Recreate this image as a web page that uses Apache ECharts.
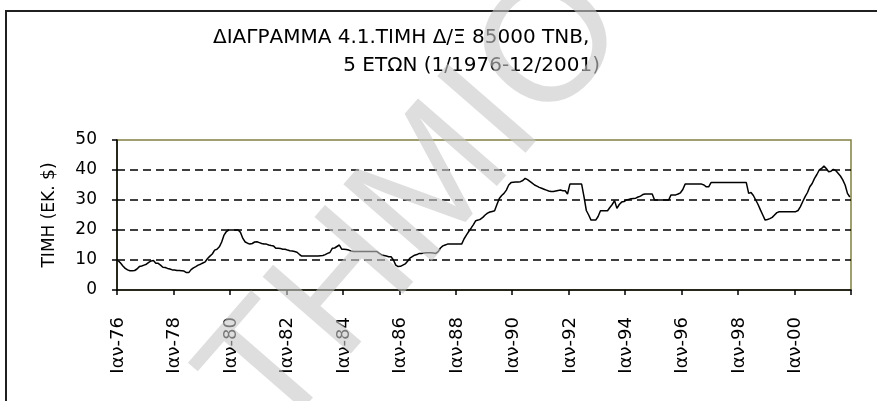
<!DOCTYPE html>
<html>
<head>
<meta charset="utf-8">
<script src="https://cdn.jsdelivr.net/npm/echarts@6/dist/echarts.min.js"></script>
<style>
  html, body { margin: 0; padding: 0; background: #fff; }
  #chart { width: 877px; height: 401px; }
</style>
</head>
<body>
<div id="chart"></div>
<script>
// Titles and axis texts
const titleLines = ['ΔΙΑΓΡΑΜΜΑ 4.1.ΤΙΜΗ Δ/Ξ 85000 ΤΝΒ,', '5 ΕΤΩΝ (1/1976-12/2001)'];
const yAxisName = 'ΤΙΜΗ (ΕΚ. $)';
const watermarkText = 'ΤΗΜΙΟ';

// Month abbreviations used in the category labels
const monthNames = ['Ιαν', 'Φεβ', 'Μαρ', 'Απρ', 'Μαϊ', 'Ιουν', 'Ιουλ', 'Αυγ', 'Σεπ', 'Οκτ', 'Νοε', 'Δεκ'];
const firstYear = 1976;
const lastYear = 2001;

// Y axis scale
const yMin = 0, yMax = 50, yStep = 10;

// Monthly price (million $), one row per year, Jan..Dec
const price = [
  9.8, 9.0, 8.0, 7.2, 6.7, 6.4, 6.4, 6.5, 7.0, 7.8, 8.0, 8.3,            // 1976
  8.6, 9.2, 9.7, 9.8, 8.9, 8.9, 8.3, 7.6, 7.5, 7.2, 7.0, 6.7,            // 1977
  6.7, 6.5, 6.5, 6.4, 6.3, 5.8, 5.8, 6.8, 7.4, 7.8, 8.3, 8.6,            // 1978
  9.0, 9.4, 10.5, 11.3, 12.0, 13.3, 13.6, 14.4, 16.0, 18.3, 19.5, 20.0,  // 1979
  20.0, 20.0, 20.0, 20.0, 19.2, 17.2, 16.0, 15.6, 15.3, 15.5, 16.0, 16.1,// 1980
  15.8, 15.5, 15.3, 15.3, 15.0, 14.8, 14.7, 13.9, 13.9, 13.8, 13.6, 13.6,// 1981
  13.3, 13.1, 13.0, 12.8, 12.6, 11.9, 11.3, 11.3, 11.3, 11.3, 11.3, 11.3,// 1982
  11.3, 11.3, 11.4, 11.5, 11.8, 12.2, 12.5, 13.9, 14.0, 14.5, 15.0, 13.6,// 1983
  13.6, 13.5, 13.3, 13.0, 12.8, 12.8, 12.8, 12.8, 12.8, 12.8, 12.8, 12.8,// 1984
  12.8, 12.8, 12.8, 12.2, 11.7, 11.5, 11.3, 11.1, 11.1, 10.0, 8.3, 7.8,  // 1985
  7.9, 8.3, 8.7, 9.6, 10.6, 11.1, 11.6, 11.8, 12.2, 12.2, 12.3, 12.4,    // 1986
  12.4, 12.4, 12.3, 12.2, 12.8, 14.0, 14.7, 15.0, 15.3, 15.3, 15.3, 15.3,// 1987
  15.3, 15.3, 15.3, 17.0, 18.3, 19.5, 20.6, 21.8, 23.1, 23.3, 23.6, 24.2,// 1988
  25.0, 25.6, 26.0, 26.2, 26.4, 28.5, 30.5, 31.5, 32.2, 33.3, 35.0, 35.8,// 1989
  35.9, 36.0, 36.0, 36.1, 36.5, 37.2, 36.8, 36.2, 35.6, 35.0, 34.6, 34.2,// 1990
  33.9, 33.6, 33.3, 33.0, 32.8, 32.8, 33.0, 33.2, 33.3, 33.1, 33.1, 32.0,// 1991
  35.3, 35.3, 35.3, 35.3, 35.3, 35.3, 31.1, 26.5, 25.0, 23.3, 23.3, 23.3,// 1992
  24.5, 26.4, 26.4, 26.4, 26.4, 27.5, 28.5, 29.8, 27.2, 28.5, 29.3, 29.5,// 1993
  30.0, 30.2, 30.4, 30.5, 30.6, 31.0, 31.3, 31.8, 32.0, 32.0, 32.0, 32.0,// 1994
  30.0, 30.0, 30.0, 30.0, 30.0, 30.0, 30.0, 31.7, 31.7, 31.7, 32.0, 32.4,// 1995
  33.5, 35.3, 35.3, 35.3, 35.3, 35.3, 35.3, 35.3, 35.3, 35.0, 34.4, 34.4,// 1996
  35.8, 35.8, 35.8, 35.8, 35.8, 35.8, 35.8, 35.8, 35.8, 35.8, 35.8, 35.8,// 1997
  35.8, 35.8, 35.8, 35.8, 32.2, 32.5, 31.5, 30.0, 28.5, 26.7, 25.0, 23.3,// 1998
  23.5, 23.8, 24.2, 25.0, 25.8, 26.1, 26.1, 26.1, 26.1, 26.1, 26.1, 26.1,// 1999
  26.1, 26.5, 27.8, 29.5, 31.1, 32.5, 34.4, 35.5, 37.2, 38.5, 40.0, 40.5,// 2000
  41.3, 40.5, 39.4, 39.6, 40.2, 39.8, 38.9, 38.0, 36.7, 35.0, 32.2, 31.0 // 2001
];

// Category labels such as "Ιαν-76"
const months = [];
for (let y = firstYear; y <= lastYear; y++) {
  for (let m = 0; m < 12; m++) {
    months.push(monthNames[m] + '-' + String(y % 100).padStart(2, '0'));
  }
}

const FONT = '"DejaVu Sans", "Liberation Sans", Arial, sans-serif';
const chart = echarts.init(document.getElementById('chart'), null, { renderer: 'canvas' });

chart.setOption({
  animation: false,
  backgroundColor: '#ffffff',
  grid: {
    left: 117, right: 26, top: 140, bottom: 111,
    show: true, borderColor: '#808040', borderWidth: 1.5, backgroundColor: '#ffffff'
  },
  xAxis: {
    type: 'category',
    data: months,
    boundaryGap: true,
    axisLine: { lineStyle: { color: '#000', width: 1.5 } },
    axisTick: { show: true, interval: 23, length: 5, lineStyle: { color: '#000', width: 1.5 } },
    axisLabel: { interval: 23, rotate: 90, margin: 27, fontFamily: FONT, fontSize: 18, color: '#000' },
    splitLine: { show: false }
  },
  yAxis: {
    type: 'value',
    min: yMin, max: yMax, interval: yStep,
    name: yAxisName,
    nameLocation: 'middle',
    nameRotate: 90,
    nameGap: 59,
    nameTextStyle: { fontFamily: FONT, fontSize: 17, color: '#000' },
    axisLine: { show: true, lineStyle: { color: '#000', width: 1.5 } },
    axisTick: { show: true, length: 5, lineStyle: { color: '#000', width: 1.5 } },
    axisLabel: { margin: 20, fontFamily: FONT, fontSize: 17, color: '#000' },
    splitLine: {
      show: true, showMinLine: false, showMaxLine: false,
      lineStyle: { color: '#000', type: [8, 5], width: 1.5 }
    }
  },
  series: [{
    type: 'line',
    data: price,
    symbol: 'none',
    showSymbol: false,
    lineStyle: { color: '#000', width: 1.5 },
    z: 3
  }],
  graphic: [
    {
      type: 'rect', z: -10, silent: true,
      shape: { x: 6, y: 11, width: 1000, height: 1000 },
      style: { fill: 'none', stroke: '#202020', lineWidth: 2 }
    },
    {
      type: 'text', left: 213, top: 28, silent: true,
      style: { text: titleLines[0], font: '20px ' + FONT, fill: '#000' }
    },
    {
      type: 'text', right: 877 - 600, top: 56, silent: true,
      style: { text: titleLines[1], font: '20px ' + FONT, fill: '#000' }
    },
    {
      type: 'text', x: 418, y: 205, rotation: 49 * Math.PI / 180, silent: true, z: 100,
      style: {
        text: watermarkText, font: '170px "Liberation Sans", Arial, sans-serif',
        fill: 'rgba(200,200,200,0.6)',
        align: 'center', verticalAlign: 'middle', textAlign: 'center', textVerticalAlign: 'middle'
      }
    }
  ]
});
</script>
</body>
</html>
